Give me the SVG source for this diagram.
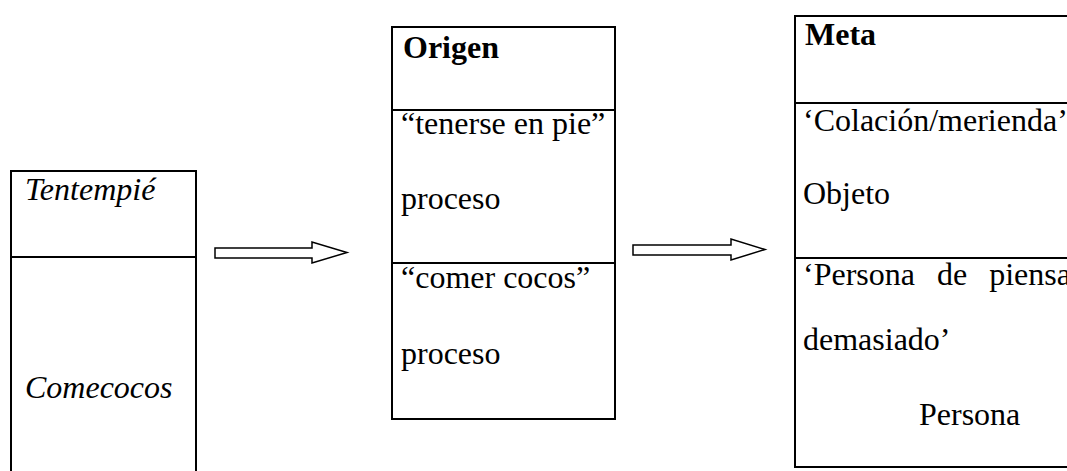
<svg xmlns="http://www.w3.org/2000/svg" width="1067" height="471" viewBox="0 0 1067 471">
  <style>
    .box { fill: #fff; stroke: #000; stroke-width: 2; }
    .sep { stroke: #000; stroke-width: 2; }
    .arrow { fill: #fff; stroke: #000; stroke-width: 1.5; stroke-linejoin: miter; }
    .t { font-family: "Liberation Serif", "Times New Roman", serif; font-size: 32px; fill: #000; }
    .b { font-weight: bold; }
    .i { font-style: italic; }
  </style>
  <rect width="1067" height="471" fill="#fff"/>

  <!-- source expression -->
  <g id="node-source">
    <rect class="box" x="11" y="171" width="185" height="320"/>
    <line class="sep" x1="11" y1="257" x2="196" y2="257"/>
    <text class="t i" x="25" y="200">Tentempié</text>
    <text class="t i" x="25" y="398">Comecocos</text>
  </g>

  <!-- origin domain -->
  <g id="node-origen">
    <rect class="box" x="392" y="27" width="223" height="392"/>
    <line class="sep" x1="392" y1="110" x2="615" y2="110"/>
    <line class="sep" x1="392" y1="263" x2="615" y2="263"/>
    <text class="t b" x="403" y="58">Origen</text>
    <text class="t" x="401" y="134">“tenerse en pie”</text>
    <text class="t" x="401" y="209">proceso</text>
    <text class="t" x="401" y="288">“comer cocos”</text>
    <text class="t" x="401" y="364">proceso</text>
  </g>

  <!-- target domain -->
  <g id="node-meta">
    <rect class="box" x="795" y="16" width="290" height="451"/>
    <line class="sep" x1="795" y1="103" x2="1085" y2="103"/>
    <line class="sep" x1="795" y1="258" x2="1085" y2="258"/>
    <text class="t b" x="805" y="45">Meta</text>
    <text class="t" x="803" y="131">‘Colación/merienda’</text>
    <text class="t" x="803" y="204">Objeto</text>
    <text class="t" x="803" y="285" word-spacing="14">‘Persona de piensa</text>
    <text class="t" x="803" y="350">demasiado’</text>
    <text class="t" x="919" y="425">Persona</text>
  </g>

  <!-- block arrows between the columns -->
  <g id="connectors">
    <polygon class="arrow" points="215,248 312,248 312,242 347,252.5 312,263 312,258 215,258"/>
    <polygon class="arrow" points="633,245 731,245 731,239 765,249.5 731,260 731,255 633,255"/>
  </g>
</svg>
